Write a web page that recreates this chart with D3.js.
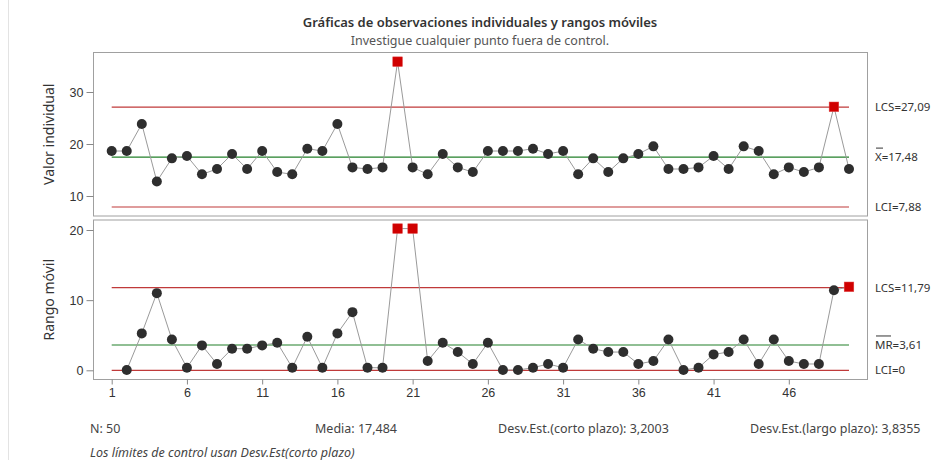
<!DOCTYPE html>
<html><head><meta charset="utf-8">
<script src="https://cdn.jsdelivr.net/npm/d3@7"></script>
<style>
body{margin:0;background:#fff;}
svg{display:block;font-family:"Segoe UI","Noto Sans","Open Sans",sans-serif;}
</style></head>
<body><svg id="c" width="951" height="460"></svg>
<script>
// ---- data ----
const observations = [18.65,18.65,23.85,12.8,17.24,17.69,14.17,15.19,18.08,15.19,18.65,14.6,14.17,19.1,18.65,23.85,15.5,15.19,15.5,35.83,15.5,14.17,18.08,15.5,14.6,18.65,18.65,18.65,19.1,18.08,18.65,14.17,17.24,14.6,17.24,18.08,19.55,15.19,15.19,15.5,17.69,15.19,19.55,18.65,14.17,15.5,14.6,15.5,27.15,15.19];
const movingRanges = [null,0.04,5.26,11.0,4.4,0.37,3.55,0.9,3.08,3.08,3.55,3.93,0.37,4.78,0.37,5.26,8.29,0.37,0.37,20.2,20.2,1.32,3.93,2.6,0.9,3.93,0.04,0.04,0.37,0.9,0.37,4.4,3.08,2.6,2.6,0.9,1.32,4.4,0.04,0.37,2.27,2.6,4.4,0.9,4.4,1.32,0.9,0.9,11.42,11.9];
const obsOutOfControl = [20,49];
const mrOutOfControl = [20,21,50];
const obsLimits = [{v:27.09,label:"LCS=27,09",kind:"limit"},{v:17.48,label:"X=17,48",bar:"X",kind:"center"},{v:7.88,label:"LCI=7,88",kind:"limit"}];
const mrLimits = [{v:11.79,label:"LCS=11,79",kind:"limit"},{v:3.61,label:"MR=3,61",bar:"MR",kind:"center"},{v:0,label:"LCI=0",kind:"limit"}];
const xTicks = [1,6,11,16,21,26,31,36,41,46];
const obsTicks = [10,20,30];
const mrTicks = [0,10,20];
const title = "Gráficas de observaciones individuales y rangos móviles";
const subtitle = "Investigue cualquier punto fuera de control.";
const stats = [{t:"N: 50",x:90},{t:"Media: 17,484",x:315},{t:"Desv.Est.(corto plazo): 3,2003",x:498},{t:"Desv.Est.(largo plazo): 3,8355",x:750}];
const note = "Los límites de control usan Desv.Est(corto plazo)";

// ---- drawing ----
const svg = d3.select("#c");
svg.append("line").attr("x1",8.5).attr("x2",8.5).attr("y1",0).attr("y2",460).attr("stroke","#e3e3e3");

svg.append("text").attr("x",480).attr("y",27).attr("text-anchor","middle")
  .attr("font-size",13).attr("font-weight",600).attr("fill","#333").text(title);
svg.append("text").attr("x",480).attr("y",45).attr("text-anchor","middle")
  .attr("font-size",12.5).attr("fill","#555").text(subtitle);

const left=93.5, right=867.5;
const x = d3.scaleLinear().domain([1,50]).range([111.7,849]);

function panel(top,bottom,y,values,flags,limits,ticks,ytitle,showX){
  const g = svg.append("g");
  g.append("rect").attr("x",left).attr("y",top).attr("width",right-left).attr("height",bottom-top)
    .attr("fill","none").attr("stroke","#a0a0a0");
  const ya = d3.axisLeft(y).tickValues(ticks).tickSize(7).tickPadding(3);
  const ag = g.append("g").attr("transform",`translate(${left},0)`).call(ya);
  ag.select(".domain").remove();
  ag.selectAll("line").attr("stroke","#888");
  ag.selectAll("text").attr("font-size",12.5).attr("fill","#333").attr("font-family",null);
  g.append("text").attr("transform",`translate(54,${(top+bottom)/2}) rotate(-90)`)
    .attr("text-anchor","middle").attr("font-size",14).attr("fill","#333").text(ytitle);
  if(showX){
    const xa = d3.axisBottom(x).tickValues(xTicks).tickSize(5).tickPadding(4).tickFormat(d3.format("d"));
    const xg = g.append("g").attr("transform",`translate(0,${bottom})`).call(xa);
    xg.select(".domain").remove();
    xg.selectAll("line").attr("stroke","#888");
    xg.selectAll("text").attr("font-size",12.5).attr("fill","#333").attr("font-family",null);
  }
  limits.forEach(l=>{
    g.append("line").attr("x1",x(1)).attr("x2",x(50)).attr("y1",y(l.v)).attr("y2",y(l.v))
      .attr("stroke",l.kind==="center"?"#23802a":"#c03a3a").attr("stroke-width",1.2);
    g.append("text").attr("x",875).attr("y",y(l.v)).attr("dy","0.35em")
      .attr("font-size",11.5).attr("fill","#333").text(l.label);
    if(l.bar){
      const w = l.bar==="X"?7:15;
      g.append("line").attr("x1",876).attr("x2",876+w).attr("y1",y(l.v)-9).attr("y2",y(l.v)-9)
        .attr("stroke","#333").attr("stroke-width",1);
    }
  });
  const pts = values.map((v,i)=>({i:i+1,v})).filter(d=>d.v!==null);
  g.append("path").datum(pts).attr("fill","none").attr("stroke","#9a9a9a").attr("stroke-width",1)
    .attr("d",d3.line().x(d=>x(d.i)).y(d=>y(d.v)));
  g.selectAll("circle.p").data(pts.filter(d=>!flags.includes(d.i))).join("circle")
    .attr("cx",d=>x(d.i)).attr("cy",d=>y(d.v)).attr("r",5).attr("fill","#2e2e2e");
  g.selectAll("rect.f").data(pts.filter(d=>flags.includes(d.i))).join("rect")
    .attr("x",d=>x(d.i)-4.8).attr("y",d=>y(d.v)-4.8).attr("width",9.6).attr("height",9.6)
    .attr("fill","#d00000").attr("stroke","#e04040").attr("stroke-width",0.5);
}

const yObs = d3.scaleLinear().domain([10,30]).range([196,92]);
const yMr = d3.scaleLinear().domain([0,20]).range([370.3,230]);
panel(52.5,216,yObs,observations,obsOutOfControl,obsLimits,obsTicks,"Valor individual",false);
panel(220,379.5,yMr,movingRanges,mrOutOfControl,mrLimits,mrTicks,"Rango móvil",true);

stats.forEach(s=>svg.append("text").attr("x",s.x).attr("y",433).attr("font-size",12.5).attr("fill","#444").text(s.t));
svg.append("text").attr("x",90).attr("y",457).attr("font-size",12.5).attr("font-style","italic").attr("fill","#444").text(note);
</script></body></html>
